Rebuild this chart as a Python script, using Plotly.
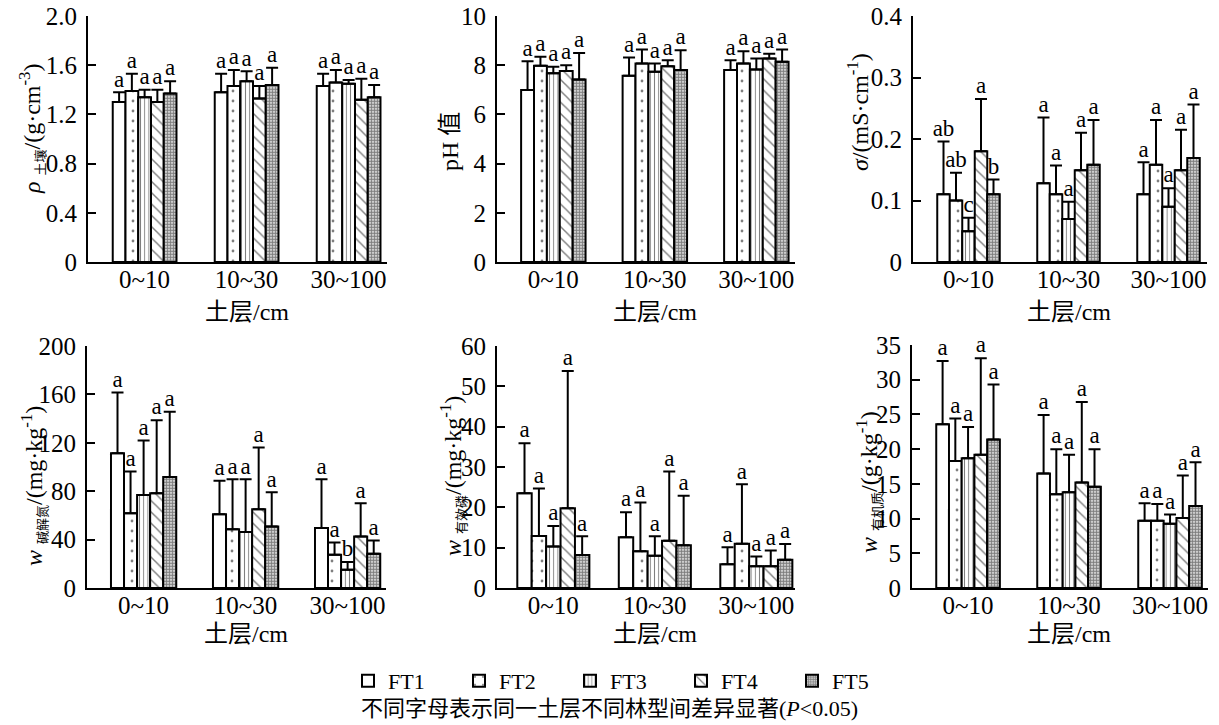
import plotly.graph_objects as go

W, H = 1219, 725
FONT = "Liberation Serif, Noto Sans CJK SC, serif"

layers = ["0~10", "10~30", "30~100"]
types = ["FT1", "FT2", "FT3", "FT4", "FT5"]

bd_mean = [[1.30, 1.38, 1.43], [1.39, 1.43, 1.46], [1.34, 1.47, 1.45], [1.30, 1.33, 1.32], [1.37, 1.44, 1.34]]
bd_top = [[1.38, 1.53, 1.53], [1.53, 1.56, 1.56], [1.40, 1.55, 1.48], [1.40, 1.43, 1.49], [1.47, 1.58, 1.44]]

ph_mean = [[6.99, 7.57, 7.80], [7.98, 8.07, 8.07], [7.67, 7.73, 7.83], [7.76, 7.96, 8.27], [7.42, 7.80, 8.14]]
ph_top = [[8.16, 8.31, 8.20], [8.34, 8.64, 8.57], [7.94, 8.07, 8.27], [8.00, 8.20, 8.47], [8.50, 8.61, 8.64]]

ec_mean = [[0.110, 0.128, 0.110], [0.100, 0.110, 0.158], [0.050, 0.070, 0.090], [0.180, 0.149, 0.149], [0.110, 0.158, 0.169]]
ec_top = [[0.196, 0.235, 0.162], [0.145, 0.157, 0.231], [0.072, 0.098, 0.120], [0.265, 0.210, 0.215], [0.134, 0.231, 0.256]]
ec_let = [["ab", "a", "a"], ["ab", "a", "a"], ["c", "a", "a"], ["a", "a", "a"], ["b", "a", "a"]]

an_mean = [[111.3, 61.0, 49.5], [61.8, 48.6, 27.5], [76.9, 46.2, 15.1], [78.3, 65.1, 42.6], [91.8, 50.8, 28.3]]
an_top = [[161.5, 88.7, 89.8], [96.2, 89.8, 37.6], [122.0, 89.8, 21.4], [138.7, 116.2, 70.0], [145.6, 79.1, 39.3]]
an_let = [["a", "a", "a"], ["a", "a", "a"], ["a", "a", "b"], ["a", "a", "a"], ["a", "a", "a"]]

ap_mean = [[23.5, 12.6, 5.9], [12.9, 9.1, 11.0], [10.3, 8.0, 5.4], [19.8, 11.7, 5.4], [8.2, 10.6, 7.0]]
ap_top = [[35.9, 18.8, 10.1], [24.7, 21.2, 25.7], [15.4, 12.8, 7.8], [53.8, 28.9, 9.3], [12.8, 22.9, 10.9]]

om_mean = [[23.6, 16.5, 9.7], [18.3, 13.5, 9.7], [18.7, 13.8, 9.25], [19.2, 15.2, 10.1], [21.4, 14.6, 11.8]]
om_top = [[32.7, 24.9, 12.2], [24.4, 20.0, 12.1], [23.2, 19.2, 10.6], [33.1, 26.8, 16.2], [29.3, 20.0, 18.1]]

all_a = [["a", "a", "a"] for _ in range(5)]

SUB = "<sub><span style='font-size:13px'>{}</span></sub>"
y_titles = [
    "<i>ρ</i> " + SUB.format("土壤") + "/(g·cm<sup>-3</sup>)",
    "pH 值",
    "<i>σ</i>/(mS·cm<sup>-1</sup>)",
    "<i>w</i> " + SUB.format("碱解氮") + "/(mg·kg<sup>-1</sup>)",
    "<i>w</i> " + SUB.format("有效磷") + "/(mg·kg<sup>-1</sup>)",
    "<i>w</i> " + SUB.format("有机质") + "/(g·kg<sup>-1</sup>)",
]
y_ticks = [
    ([0, 0.4, 0.8, 1.2, 1.6, 2.0], ["0", "0.4", "0.8", "1.2", "1.6", "2.0"]),
    ([0, 2, 4, 6, 8, 10], ["0", "2", "4", "6", "8", "10"]),
    ([0, 0.1, 0.2, 0.3, 0.4], ["0", "0.1", "0.2", "0.3", "0.4"]),
    ([0, 40, 80, 120, 160, 200], ["0", "40", "80", "120", "160", "200"]),
    ([0, 10, 20, 30, 40, 50, 60], ["0", "10", "20", "30", "40", "50", "60"]),
    ([0, 5, 10, 15, 20, 25, 30, 35], ["0", "5", "10", "15", "20", "25", "30", "35"]),
]

panels = [
    (bd_mean, bd_top, all_a),
    (ph_mean, ph_top, all_a),
    (ec_mean, ec_top, ec_let),
    (an_mean, an_top, an_let),
    (ap_mean, ap_top, all_a),
    (om_mean, om_top, all_a),
]

# geometry in reference-image pixels
axis_left = [88, 497, 913, 87, 497, 912]
ppu = [102, 101.5, 100, 102, 101.5, 101]
row_y = [(16, 262), (16, 262), (16, 262), (346, 588), (346, 588), (345, 588)]
bar_w = [0.125, 0.127, 0.125, 0.128, 0.142, 0.126]
ytitle_pos = [(32, 129), (450, 142), (858, 112), (33, 486), (452, 476), (868, 482)]
xtitle_y = [312, 312, 312, 634, 634, 634]
XR = (-0.555, 2.38)


def px(v):
    return v / W


def py(v):
    return 1 - v / H


patterns = [
    dict(shape=""),
    dict(shape=".", size=10, solidity=0.06, fgcolor="black", bgcolor="white"),
    dict(shape="|", size=4.2, solidity=0.22, fgcolor="black", bgcolor="white"),
    dict(shape="\\", size=8, solidity=0.18, fgcolor="black", bgcolor="white"),
    dict(shape=".", size=3, solidity=0.7, fgcolor="black", bgcolor="white"),
]

fig = go.Figure()
annotations = []
layout_axes = {}

for p, (means, tops, lets) in enumerate(panels):
    xa = "x" if p == 0 else f"x{p+1}"
    ya = "y" if p == 0 else f"y{p+1}"
    w = bar_w[p]
    for j, name in enumerate(types):
        xs = [i + (j - 2) * w for i in range(len(layers))]
        m = means[j]
        err = [t - v for t, v in zip(tops[j], m)]
        fig.add_trace(go.Bar(
            x=xs, y=m, width=w, name=name, xaxis=xa, yaxis=ya,
            legendgroup=name, showlegend=(p == 0),
            marker=dict(color="white", line=dict(color="black", width=2), pattern=patterns[j]),
            error_y=dict(type="data", symmetric=False, array=err, arrayminus=[0] * len(m),
                         color="black", thickness=2, width=6),
        ))
        fig.add_trace(go.Scatter(
            x=xs, y=tops[j], mode="text", text=lets[j], textposition="top center",
            textfont=dict(family=FONT, size=23, color="black"),
            xaxis=xa, yaxis=ya, showlegend=False, cliponaxis=False, hoverinfo="skip",
        ))
    x0 = px(axis_left[p])
    x1 = px(axis_left[p] + ppu[p] * (XR[1] - XR[0]))
    yt, yb = row_y[p]
    sfx = "" if p == 0 else str(p + 1)
    layout_axes["xaxis" + sfx] = dict(
        domain=[x0, min(x1, 1)], range=list(XR), anchor=ya, showline=True, linecolor="black", linewidth=2,
        tickvals=[0, 1, 2], ticktext=layers, ticks="", showgrid=False, zeroline=False,
        tickfont=dict(family=FONT, size=25, color="black"), ticklabelstandoff=-6, automargin=False,
        ticklabeloverflow="allow",
    )
    tv, tt = y_ticks[p]
    layout_axes["yaxis" + sfx] = dict(
        domain=[py(yb), py(yt)], range=[0, tv[-1]], anchor=xa, showline=True,
        linecolor="black", linewidth=2, tickvals=tv, ticktext=tt, ticks="inside", ticklen=8,
        tickwidth=2, tickcolor="black", showgrid=False, zeroline=False,
        tickfont=dict(family=FONT, size=25, color="black"), ticklabelstandoff=4, automargin=False,
        ticklabeloverflow="allow",
    )
    tx, ty = ytitle_pos[p]
    annotations.append(dict(
        x=px(tx), y=py(ty), xref="paper", yref="paper", text=y_titles[p], textangle=-90,
        showarrow=False, xanchor="center", yanchor="middle",
        font=dict(family=FONT, size=24, color="black"),
    ))
    annotations.append(dict(
        x=1, y=py(xtitle_y[p]), xref=xa, yref="paper", text="土层/cm", showarrow=False,
        xanchor="center", yanchor="middle", font=dict(family=FONT, size=24, color="black"),
    ))

annotations.append(dict(
    x=px(609), y=py(708), xref="paper", yref="paper",
    text="不同字母表示同一土层不同林型间差异显著(<i>P</i><0.05)", showarrow=False,
    xanchor="center", yanchor="middle", font=dict(family=FONT, size=22, color="black"),
))

fig.update_layout(
    width=W, height=H, autosize=False, margin=dict(l=0, r=0, t=0, b=0, pad=0, autoexpand=False),
    paper_bgcolor="white", plot_bgcolor="white", barmode="overlay",
    font=dict(family=FONT, color="black"),
    showlegend=True,
    legend=dict(orientation="h", x=px(348), y=py(681), xanchor="left", yanchor="middle",
                entrywidth=66, entrywidthmode="pixels", font=dict(family=FONT, size=22, color="black"),
                itemclick=False, bgcolor="rgba(0,0,0,0)"),
    annotations=annotations,
    **layout_axes,
)

fig.write_html("out.html", config={"displayModeBar": False},
               post_script="document.body.style.margin='0';document.body.style.overflow='hidden';")
